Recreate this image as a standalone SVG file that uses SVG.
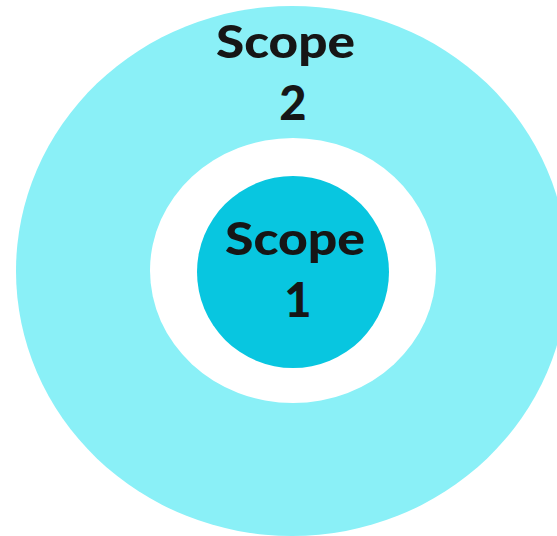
<svg xmlns="http://www.w3.org/2000/svg" width="557" height="536" viewBox="0 0 557 536">
<style>
.lbl{font-family:Lato,"Liberation Sans",sans-serif;font-weight:900;font-size:45px;fill:#161616;text-anchor:middle}
.num{font-size:47px}
</style>
<rect width="557" height="536" fill="#ffffff"/>
<g id="scope2">
<ellipse cx="292" cy="271" rx="276" ry="265" fill="#8AF0F7"/>
<ellipse cx="293" cy="270.5" rx="143" ry="132.5" fill="#ffffff"/>
<text class="lbl" x="285.5" y="58" textLength="139" lengthAdjust="spacingAndGlyphs">Scope</text>
<text class="lbl num" x="293" y="120">2</text>
</g>
<g id="scope1">
<circle cx="293" cy="272" r="96" fill="#08C6E0"/>
<text class="lbl" x="295" y="255" textLength="140" lengthAdjust="spacingAndGlyphs">Scope</text>
<text class="lbl num" x="298" y="317">1</text>
</g>
<g id="connectors"/>
</svg>
